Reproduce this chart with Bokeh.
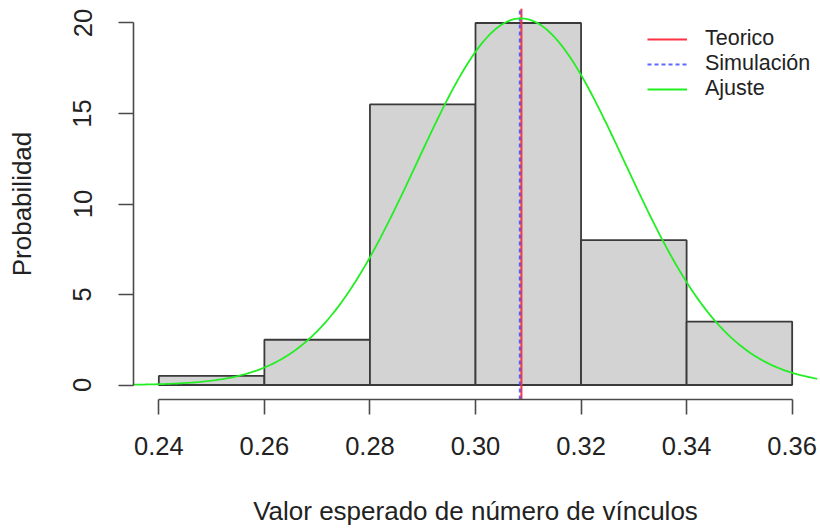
import numpy as np
from bokeh.plotting import figure
from bokeh.models import (Range1d, FixedTicker, Legend, LegendItem,
                          ColumnDataSource, NumeralTickFormatter)
from bokeh.embed import file_html
from bokeh.resources import INLINE

# ---- data ----
breaks = [0.24, 0.26, 0.28, 0.30, 0.32, 0.34, 0.36]
density = [0.5, 2.5, 15.5, 20.0, 8.0, 3.5]
x_ticks = [0.24, 0.26, 0.28, 0.30, 0.32, 0.34, 0.36]
y_ticks = [0, 5, 10, 15, 20]
teorico = 0.3087
simulacion = 0.3084
fit_mean = 0.3086
fit_sd = 0.0197

FONT = "Liberation Sans"
TXT = "#222222"

# R-style 4% range extension
x0, x1 = 0.24 - 0.0048, 0.36 + 0.0048
y0, y1 = -0.8, 20.8

p = figure(width=820, height=528, output_backend="svg", toolbar_location=None,
           x_range=Range1d(x0, x1), y_range=Range1d(y0, y1))
p.min_border_left = 133
p.min_border_right = 3
p.min_border_top = 8
p.min_border_bottom = 125
p.outline_line_color = None
p.grid.visible = False
p.background_fill_color = "white"
p.border_fill_color = "white"

src = ColumnDataSource(dict(left=breaks[:-1], right=breaks[1:], top=density,
                            bottom=[0] * len(density)))
p.quad(left="left", right="right", top="top", bottom="bottom", source=src,
       fill_color="#D3D3D3", line_color="#3a3a3a", line_width=1.8)

r_teo = p.line(x=[teorico, teorico], y=[y0, y1], line_color="#FF3344", line_width=2)
r_sim = p.line(x=[simulacion, simulacion], y=[y0, y1], line_color="#3344FF",
               line_width=2, line_dash="4 3", line_alpha=0.8)

xs = np.linspace(x0, x1, 300)
ys = np.exp(-0.5 * ((xs - fit_mean) / fit_sd) ** 2) / (fit_sd * np.sqrt(2 * np.pi))
r_fit = p.line(xs, ys, line_color="#22EE22", line_width=1.8)

# axes
for ax in (p.xaxis[0], p.yaxis[0]):
    ax.axis_line_color = "#4a4a4a"
    ax.axis_line_width = 1.6
    ax.major_tick_line_color = "#4a4a4a"
    ax.major_tick_line_width = 1.6
    ax.major_tick_out = 15
    ax.major_tick_in = 0
    ax.minor_tick_line_color = None
    ax.major_label_text_font = FONT
    ax.major_label_text_font_size = "25.5px"
    ax.major_label_text_color = TXT
    ax.axis_label_text_font = FONT
    ax.axis_label_text_font_size = "26px"
    ax.axis_label_text_font_style = "normal"
    ax.axis_label_text_color = TXT

p.xaxis.ticker = FixedTicker(ticks=x_ticks)
p.xaxis.formatter = NumeralTickFormatter(format="0.00")
p.xaxis.bounds = (x_ticks[0], x_ticks[-1])
p.xaxis.major_label_standoff = 22
p.xaxis.axis_label = "Valor esperado de número de vínculos"
p.xaxis.axis_label_standoff = 38

p.yaxis.ticker = FixedTicker(ticks=y_ticks)
p.yaxis.bounds = (y_ticks[0], y_ticks[-1])
p.yaxis.major_label_orientation = "vertical"
p.yaxis.major_label_standoff = 27
p.yaxis.axis_label = "Probabilidad"
p.yaxis.axis_label_standoff = 34

legend = Legend(items=[LegendItem(label="Teorico", renderers=[r_teo]),
                       LegendItem(label="Simulación", renderers=[r_sim]),
                       LegendItem(label="Ajuste", renderers=[r_fit])],
                location=(514, 298))
legend.border_line_color = None
legend.background_fill_alpha = 0
legend.padding = 0
legend.margin = 0
legend.spacing = 0
legend.glyph_width = 40
legend.glyph_height = 20
legend.label_height = 20
legend.label_standoff = 18
legend.label_text_font = FONT
legend.label_text_font_size = "21.5px"
legend.label_text_color = TXT
legend.label_text_baseline = "middle"
p.add_layout(legend)

open("out.html", "w").write(file_html(p, INLINE))
